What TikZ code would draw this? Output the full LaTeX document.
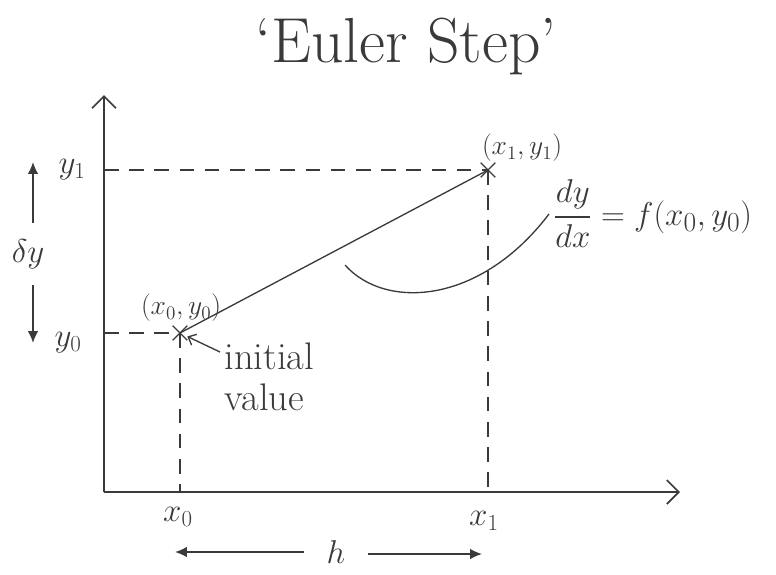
\documentclass[tikz,border=0pt]{standalone}
\usepackage{amsmath}
\usepackage{tikz}
\usetikzlibrary{arrows.meta,shapes.misc}
\definecolor{pencil}{HTML}{3A3A3A}

\begin{document}
\begin{tikzpicture}[x=0.0265cm,y=-0.0265cm,
  every node/.style={text=pencil},
  axisline/.style={draw=pencil,line width=1.3pt,-{Straight Barb[length=9pt,width=18pt]}},
  guideline/.style={draw=pencil,line width=1pt,dash pattern=on 11pt off 8pt},
  markpt/.style={cross out,draw=pencil,line width=1pt,minimum size=10pt,inner sep=0pt},
  spanarrow/.style={draw=pencil,line width=1.2pt,-{Latex[length=9pt,width=8pt]}}]
  \useasboundingbox (0,0) rectangle (776,574);
  \coordinate (O) at (104,492);
  \coordinate (ytop) at (104,95);
  \coordinate (xend) at (680,492);
  \coordinate (y0) at (104,333); \coordinate (y1) at (104,170);
  \coordinate (x0) at (180,492); \coordinate (x1) at (488,492);
  \node[markpt] (p0) at (180,333) {};
  \node[markpt] (p1) at (488,170) {};
  % axes and guides
  \draw[axisline] (O)--(ytop);
  \draw[axisline] (O)--(xend);
  \draw[guideline] (y1)--(p1.center) (p1.center)--(x1);
  \draw[guideline] (y0)--(p0.center) (p0.center)--(x0);
  \draw[draw=pencil,line width=1pt] (p0.center)--(p1.center);
  % labels
  \node[font=\fontsize{48}{48}\selectfont] (title) at (406,46) {`Euler Step'};
  \begin{scope}[font=\fontsize{27}{27}\selectfont]
    \node (ly1) at (72,170) {$y_1$};
    \node (ly0) at (68,343) {$y_0$};
    \node (lx0) at (178,517) {$x_0$};
    \node (lx1) at (484,521) {$x_1$};
    \node[inner ysep=12pt] (dy) at (28,254) {$\delta y$};
    \node[inner xsep=17pt] (h) at (336,552) {$h$};
  \end{scope}
  \coordinate (dytop) at (33,162); \coordinate (dybot) at (33,343);
  \coordinate (hleft) at (175,552); \coordinate (hright) at (482,554);
  \draw[spanarrow] (dy.north -| dytop)--(dytop);
  \draw[spanarrow] (dy.south -| dybot)--(dybot);
  \draw[spanarrow] (h.west)--(hleft);
  \draw[spanarrow] (h.east |- hright)--(hright);
  \begin{scope}[font=\fontsize{20}{20}\selectfont]
    \node (lp0) at (181,308) {$(x_0,y_0)$};
    \node (lp1) at (522,148) {$(x_1,y_1)$};
  \end{scope}
  \node[font=\fontsize{29}{31}\selectfont,align=left,anchor=north west] (init) at (220,338) {initial\\value};
  \draw[draw=pencil,line width=1pt,-{Straight Barb[length=5pt,width=9pt]}] (init.north west)++(0,14)--(p0);
  \node[font=\fontsize{30}{30}\selectfont,anchor=west] (slope) at (549,214) {$\dfrac{dy}{dx}=f(x_0,y_0)$};
  \coordinate (c0) at (345,265);
  \draw[draw=pencil,line width=1pt] (c0) .. controls (385,310) and (480,305) .. (slope.west);
\end{tikzpicture}
\end{document}
